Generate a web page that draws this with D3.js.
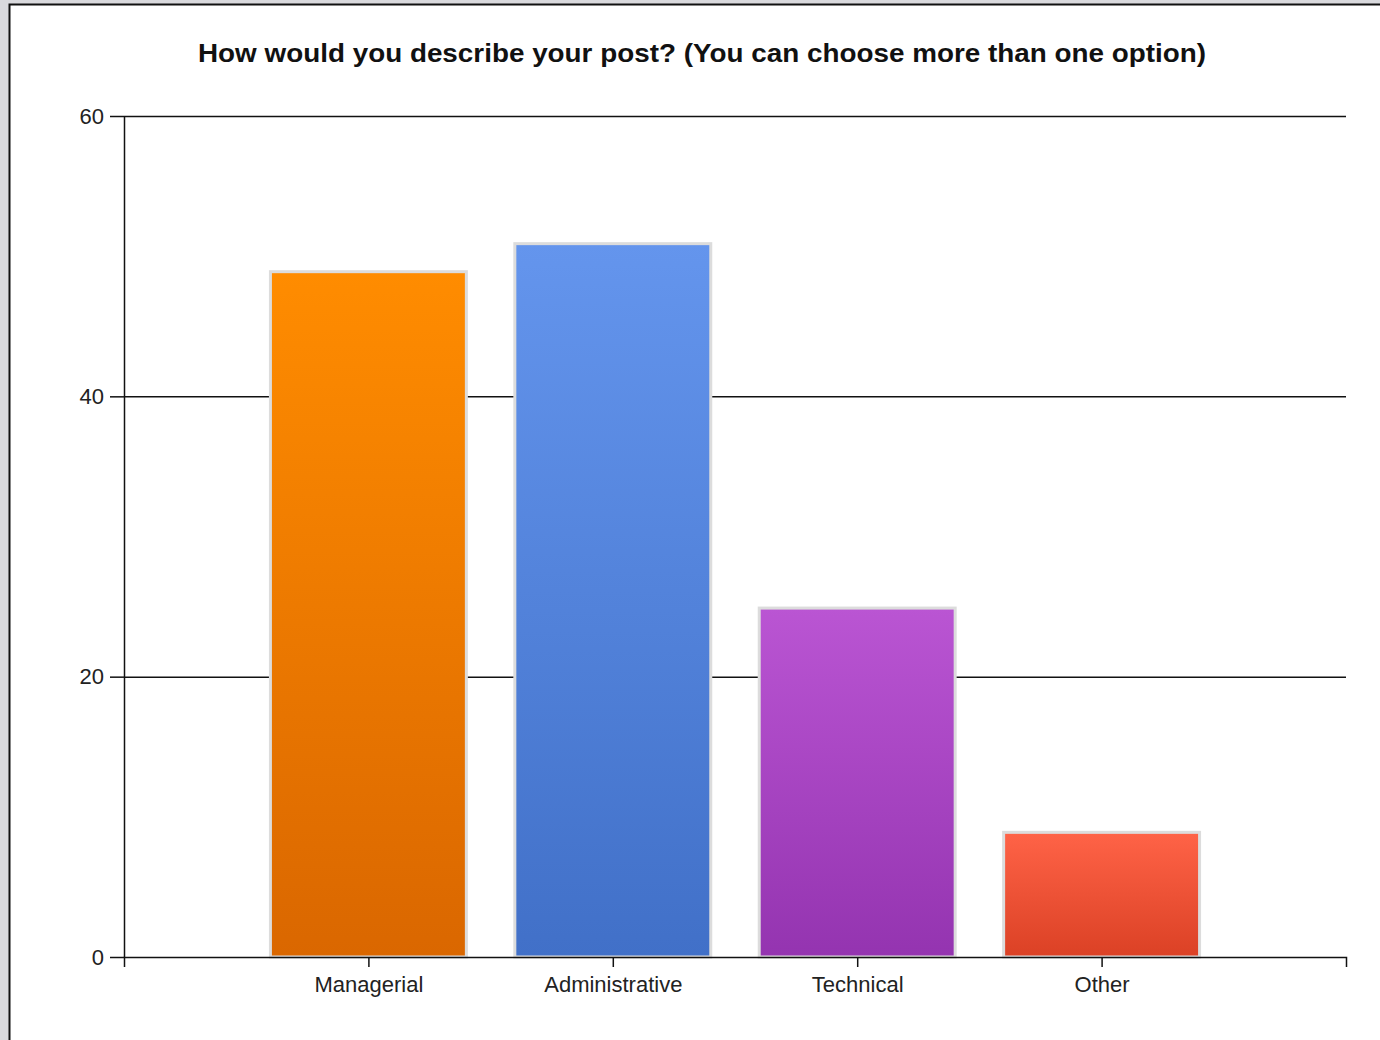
<!DOCTYPE html>
<html lang="en">
<head>
  <meta charset="UTF-8" />
  <title>How would you describe your post?</title>
  <script src="https://d3js.org/d3.v7.min.js"></script>
  <style>
    body {
      margin: 0;
      background: #d9d9dd;
    }
    svg {
      display: block;
      font-family: "Liberation Sans", Arial, sans-serif;
    }
  </style>
</head>
<body>
  <div id="chart"></div>

  <script>
    // Data
    const categories = ["Managerial", "Administrative", "Technical", "Other"];
    const values = [49, 51, 25, 9];
    const yTicks = [0, 20, 40, 60];
    const topColors = ["#ff8c00", "#6495ed", "#ba55d3", "#ff6347"];
    const bottomColors = ["#da6700", "#4170c8", "#9434b0", "#db4125"];
    const title = "How would you describe your post? (You can choose more than one option)";

    const W = 1380, H = 1040;
    const plotLeft = 124, plotRight = 1346, plotTop = 116, plotBottom = 957;

    const svg = d3.select("#chart").append("svg")
      .attr("width", W).attr("height", H);

    // page frame
    svg.append("rect").attr("x", 9).attr("y", 4).attr("width", W - 9).attr("height", H - 4)
      .attr("fill", "#fff");
    svg.append("path").attr("d", `M9.5,${H}V4.5H${W}`)
      .attr("fill", "none").attr("stroke", "#111").attr("stroke-width", 2);

    const defs = svg.append("defs");
    categories.forEach((c, i) => {
      const g = defs.append("linearGradient").attr("id", "grad" + i)
        .attr("x1", 0).attr("y1", 0).attr("x2", 0).attr("y2", 1);
      g.append("stop").attr("offset", "0%").attr("stop-color", topColors[i]);
      g.append("stop").attr("offset", "100%").attr("stop-color", bottomColors[i]);
    });

    const y = d3.scaleLinear().domain([0, 60]).range([plotBottom, plotTop]);
    // slot positions: category i sits at i + 1, outer slots empty
    const xPos = d3.scaleLinear().domain([0, categories.length + 1]).range([plotLeft, plotRight]);
    const x = d3.scaleBand().domain(categories)
      .range([xPos(0.5), xPos(categories.length + 0.5)])
      .paddingInner(0.186).paddingOuter(0.093);

    // title
    svg.append("text")
      .attr("x", 702).attr("y", 62)
      .attr("text-anchor", "middle")
      .attr("font-weight", "bold")
      .attr("font-size", 26)
      .attr("textLength", 1008)
      .attr("lengthAdjust", "spacingAndGlyphs")
      .attr("fill", "#111")
      .text(title);

    // gridlines
    svg.append("g")
      .attr("transform", `translate(${plotLeft},0)`)
      .call(d3.axisRight(y).tickValues(yTicks.filter(d => d > 0)).tickSize(plotRight - plotLeft).tickFormat(""))
      .call(g => g.select(".domain").remove())
      .call(g => g.selectAll("line").attr("stroke", "#111").attr("stroke-width", 1.5));

    // y axis
    svg.append("g")
      .attr("transform", `translate(${plotLeft},0)`)
      .call(d3.axisLeft(y).tickValues(yTicks).tickSize(14).tickSizeOuter(0).tickPadding(6))
      .call(g => g.select(".domain").attr("stroke", "#111").attr("stroke-width", 1.5))
      .call(g => g.selectAll("line").attr("stroke", "#111").attr("stroke-width", 1.5))
      .call(g => g.selectAll("text").attr("font-size", 22).attr("fill", "#222")
        .attr("font-family", "Liberation Sans, Arial, sans-serif"));

    // bars
    svg.append("g").selectAll("rect")
      .data(values)
      .join("rect")
      .attr("x", (d, i) => x(categories[i]) + 1.5)
      .attr("y", d => y(d) + 1.5)
      .attr("width", x.bandwidth() - 3)
      .attr("height", d => plotBottom - y(d) - 1.5)
      .attr("fill", (d, i) => `url(#grad${i})`)
      .attr("stroke", "#dcdcdc")
      .attr("stroke-width", 3);

    // x axis
    svg.append("g")
      .attr("transform", `translate(0,${plotBottom})`)
      .call(d3.axisBottom(xPos)
        .tickValues(categories.map((c, i) => i + 1))
        .tickFormat(i => categories[i - 1])
        .tickSize(10).tickSizeOuter(10).tickPadding(9))
      .call(g => g.select(".domain").attr("stroke", "#111").attr("stroke-width", 1.5))
      .call(g => g.selectAll("line").attr("stroke", "#111").attr("stroke-width", 1.5))
      .call(g => g.selectAll("text").attr("font-size", 22).attr("fill", "#222")
        .attr("font-family", "Liberation Sans, Arial, sans-serif"));
  </script>
</body>
</html>
